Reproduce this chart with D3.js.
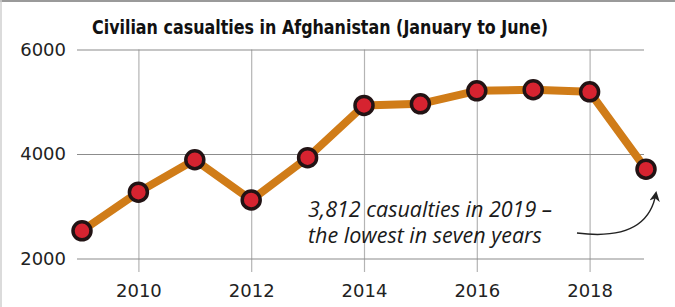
<!DOCTYPE html>
<html lang="en">
<head>
<meta charset="UTF-8">
<title>Civilian casualties in Afghanistan</title>
<script src="https://d3js.org/d3.v7.min.js"></script>
<style>
  html, body { margin: 0; padding: 0; background: #fff; }
  svg { display: block; }
  .tick text { font-family: "DejaVu Sans", sans-serif; font-size: 18px; fill: #222; }
</style>
</head>
<body>
<svg width="675" height="307"></svg>
<script>
// values
const years = [2009, 2010, 2011, 2012, 2013, 2014, 2015, 2016, 2017, 2018, 2019];
const casualties = [2530, 3270, 3890, 3120, 3930, 4930, 4960, 5210, 5230, 5190, 3710];
const yTicks = [2000, 4000, 6000];
const xTicks = [2010, 2012, 2014, 2016, 2018];
const title = "Civilian casualties in Afghanistan (January to June)";
const note = ["3,812 casualties in 2019 \u2013", "the lowest in seven years"];

const svg = d3.select("svg"),
    width = +svg.attr("width"),
    height = +svg.attr("height");

const gridLeft = 77, gridRight = 644, gridBottom = 272;

const x = d3.scaleLinear().domain([2009, 2019]).range([82, 646]),
    y = d3.scaleLinear().domain([2000, 6000]).range([258.5, 49.5]);

// frame on top and left
svg.append("line").attr("x1", 0).attr("x2", width).attr("y1", 1).attr("y2", 1)
    .attr("stroke", "#9a9a9a").attr("stroke-width", 2);
svg.append("line").attr("x1", 1).attr("x2", 1).attr("y1", 0).attr("y2", height)
    .attr("stroke", "#cfcfcf").attr("stroke-width", 1.5);

// vertical grid + x labels
const xAxis = svg.append("g")
    .attr("transform", `translate(0,${gridBottom})`)
    .call(d3.axisBottom(x).tickValues(xTicks).tickFormat(d3.format("d"))
        .tickSize(-(gridBottom - y(6000))).tickPadding(12.5));
xAxis.select(".domain").remove();
xAxis.selectAll(".tick line").attr("stroke", "#b4b4b4").attr("stroke-width", 1.2);

// horizontal grid + y labels
const yAxis = svg.append("g")
    .attr("transform", `translate(${gridLeft},0)`)
    .call(d3.axisLeft(y).tickValues(yTicks).tickFormat(d3.format("d"))
        .tickSize(-(gridRight - gridLeft)).tickPadding(11));
yAxis.select(".domain").remove();
yAxis.selectAll(".tick line").attr("stroke", "#8c8c8c").attr("stroke-width", 1.2);

// title (condensed bold, squeezed to the original width)
svg.append("text")
    .attr("x", 92).attr("y", 34)
    .attr("font-family", "'Liberation Sans Narrow', 'DejaVu Sans Condensed', sans-serif")
    .attr("font-weight", "bold")
    .attr("font-size", 19)
    .attr("textLength", 456)
    .attr("lengthAdjust", "spacingAndGlyphs")
    .attr("fill", "#111")
    .text(title);

// line
const line = d3.line().x((d, i) => x(years[i])).y(d => y(d));
svg.append("path")
    .datum(casualties)
    .attr("d", line)
    .attr("fill", "none")
    .attr("stroke", "#d07c18")
    .attr("stroke-width", 8)
    .attr("stroke-linejoin", "round");

// markers
svg.append("g").selectAll("circle")
    .data(casualties)
    .join("circle")
    .attr("cx", (d, i) => x(years[i]))
    .attr("cy", d => y(d))
    .attr("r", 9)
    .attr("fill", "#d62330")
    .attr("stroke", "#221314")
    .attr("stroke-width", 3.5);

// annotation
svg.append("text")
    .attr("font-family", "'Open Sans', sans-serif")
    .attr("font-style", "italic")
    .attr("font-size", 21.5)
    .attr("fill", "#1a1a1a")
    .selectAll("tspan")
    .data(note)
    .join("tspan")
    .attr("x", 308)
    .attr("y", (d, i) => 217 + i * 26)
    .text(d => d);

// arrow
svg.append("defs").append("marker")
    .attr("id", "head")
    .attr("viewBox", "0 0 10 10")
    .attr("refX", 8).attr("refY", 5)
    .attr("markerWidth", 7).attr("markerHeight", 7)
    .attr("orient", "auto")
    .append("path")
    .attr("d", "M0,0L10,5L0,10L3,5Z")
    .attr("fill", "#222");

svg.append("path")
    .attr("d", "M577,233 Q648,242 656,193")
    .attr("fill", "none")
    .attr("stroke", "#222")
    .attr("stroke-width", 1.5)
    .attr("marker-end", "url(#head)");
</script>
</body>
</html>
